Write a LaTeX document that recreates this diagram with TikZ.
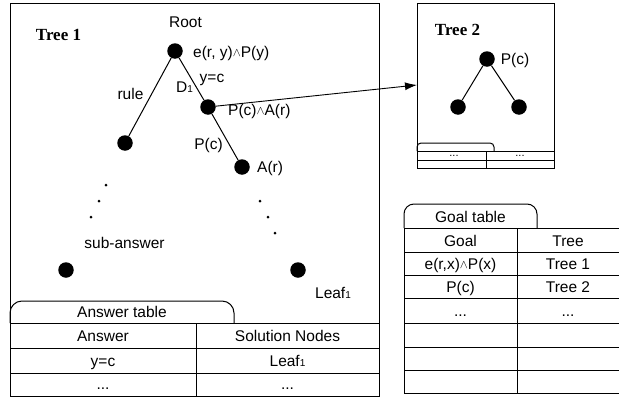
\documentclass[tikz,border=0pt]{standalone}
\usepackage{fontspec}
\setmainfont{Liberation Sans}
\newfontfamily\serifb{Liberation Serif}
\usetikzlibrary{arrows.meta}
\newcommand{\smallone}{\raisebox{-0.5pt}{\fontsize{10}{10}\selectfont 1}}
\newcommand{\andsym}{\raisebox{0.8pt}{\fontsize{12.5}{12}\selectfont$\wedge$}}
\begin{document}
\begin{tikzpicture}[x=1pt,y=-1pt, font=\fontsize{15.5}{18}\selectfont,
  dot/.style={circle,fill=black,inner sep=0,minimum size=15.5pt},
  sdot/.style={circle,fill=black,inner sep=0,minimum size=3pt},
  lbl/.style={anchor=base,inner sep=0},
  lblw/.style={anchor=base west,inner sep=0},
  ttl/.style={anchor=base,inner sep=0,font=\fontsize{17}{20}\selectfont\serifb\bfseries},
  box/.style={draw,line width=1pt},
  edge/.style={draw,line width=1pt}]
\useasboundingbox (0,0) rectangle (619,399);

% ---------- Tree 1 frame ----------
\draw[box] (10,3) rectangle (379,396);
\node[ttl] (t1title) at (58.5,40) {Tree 1};

% tree 1 nodes
\node[dot] (root) at (175,51) {};
\node[dot] (lft) at (125,143) {};
\node[dot] (d1) at (208,107) {};
\node[dot] (ar) at (242,167) {};
\node[dot] (sub) at (66,270) {};
\node[dot] (leaf) at (298,270) {};

\path[edge] (root) -- (lft);
\path[edge] (root) -- (d1);
\path[edge] (d1) -- (ar);

% ellipsis dots
\node[sdot] (l1) at (106,185) {};
\node[sdot] (l2) at (99,201) {};
\node[sdot] (l3) at (91,217) {};
\node[sdot] (r1) at (260,201) {};
\node[sdot] (r2) at (268,217) {};
\node[sdot] (r3) at (275,233) {};

% labels
\node[lbl] (rootlbl) at (185.5,27) {Root};
\node[lblw] (eq) at (193,57) {e(r, y)\andsym P(y)};
\node[lbl] (yc) at (212,82) {y=c};
\node[lblw] (dlbl) at (176,92) {D\smallone};
\node[lbl] (rule) at (130.5,99) {rule};
\node[lblw] (pca) at (228,115) {P(c)\andsym A(r)};
\node[lbl] (pclbl) at (208.5,149) {P(c)};
\node[lblw] (arlbl) at (257,172) {A(r)};
\node[lbl] (sublbl) at (124.5,248) {sub-answer};
\node[lbl] (leaflbl) at (333,298) {Leaf\smallone};

% ---------- Answer table ----------
\draw[box, rounded corners=12pt] (10,323) -- (10,301) -- (234,301) -- (234,323);
\draw[box] (10,323) -- (379,323);
\draw[box] (10,348) -- (379,348);
\draw[box] (10,373) -- (379,373);
\draw[box] (196,323) -- (196,396);
\node[lbl] (anstab) at (122,317) {Answer table};
\node[lbl] (ah1) at (103,341) {Answer};
\node[lbl] (ah2) at (287.5,341) {Solution Nodes};
\node[lbl] (a11) at (103,366) {y=c};
\node[lbl] (a12) at (287.5,366) {Leaf\smallone};
\node[lbl] (a21) at (103,389) {...};
\node[lbl] (a22) at (287.5,389) {...};

% ---------- Tree 2 ----------
\draw[box] (417,3) rectangle (554,168);
\node[ttl] (t2title) at (457.5,35) {Tree 2};
\node[dot] (pc) at (487,59) {};
\node[dot] (c1) at (458,107) {};
\node[dot] (c2) at (519,107) {};
\path[edge] (pc) -- (c1);
\path[edge] (pc) -- (c2);
\node[lbl] (pc2lbl) at (515,64) {P(c)};
\draw[box, rounded corners=4pt] (417,151) -- (417,143) -- (494,143) -- (494,151);
\draw[box] (417,151) -- (554,151);
\draw[box] (417,160) -- (554,160);
\draw[box] (486,151) -- (486,168);
\node[lbl, font=\fontsize{11}{11}\selectfont] (t2d1) at (454,156) {...};
\node[lbl, font=\fontsize{11}{11}\selectfont] (t2d2) at (520,156) {...};

% arrow
\coordinate (t2in) at (417,85);
\draw[line width=0.9pt, -{Latex[length=12pt,width=8pt]}] (d1) -- (t2in);

% ---------- Goal table ----------
\draw[box, rounded corners=10pt] (404,228) -- (404,204) -- (537,204) -- (537,228);
\draw[box] (404,228) rectangle (621,393);
\foreach \yy in {252,275,298,323,347,370} \draw[box] (404,\yy) -- (621,\yy);
\draw[box] (517,228) -- (517,393);
\node[lbl] (goaltab) at (470.5,222) {Goal table};
\node[lbl] (gh1) at (460.5,246) {Goal};
\node[lbl] (gh2) at (568,246) {Tree};
\node[lbl] (g11) at (460.5,269) {e(r,x)\andsym P(x)};
\node[lbl] (g12) at (568,269) {Tree 1};
\node[lbl] (g21) at (460.5,292) {P(c)};
\node[lbl] (g22) at (568,292) {Tree 2};
\node[lbl] (g31) at (460.5,316) {...};
\node[lbl] (g32) at (568,316) {...};
\end{tikzpicture}
\end{document}
